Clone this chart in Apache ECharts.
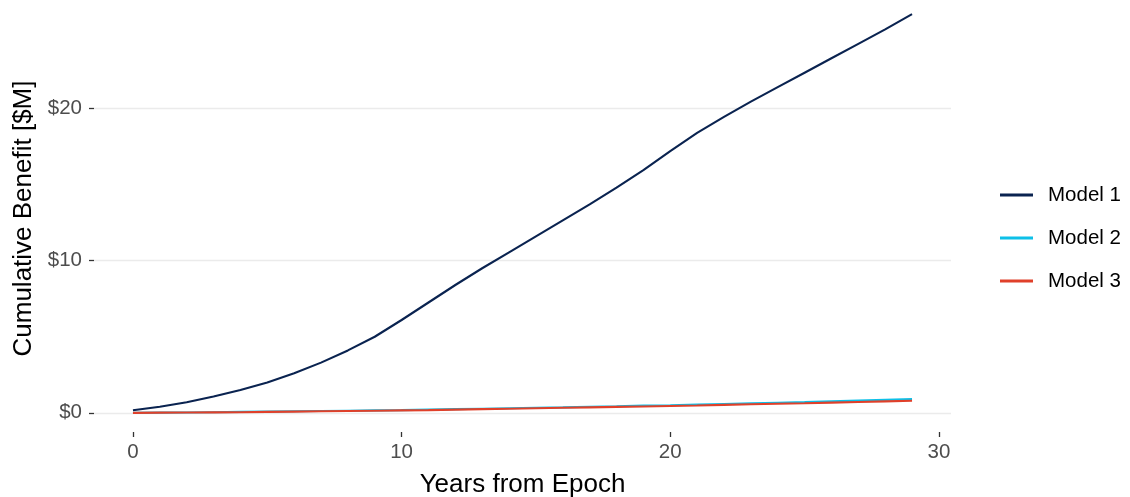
<!DOCTYPE html>
<html>
<head>
<meta charset="utf-8">
<script src="https://cdn.jsdelivr.net/npm/echarts@6/dist/echarts.min.js"></script>
<style>html,body{margin:0;padding:0;background:#fff;}#c{width:1130px;height:497px;}</style>
</head>
<body>
<div id="c"></div>
<script>
var years = [0,1,2,3,4,5,6,7,8,9,10,11,12,13,14,15,16,17,18,19,20,21,22,23,24,25,26,27,28,29];
var model1 = [0.17,0.4,0.7,1.07,1.5,2.0,2.6,3.3,4.1,5.0,6.1,7.25,8.4,9.5,10.55,11.6,12.65,13.7,14.8,15.95,17.2,18.4,19.45,20.45,21.4,22.35,23.3,24.25,25.2,26.2];
var model2 = [0,0.01,0.02,0.04,0.06,0.08,0.1,0.12,0.14,0.16,0.18,0.21,0.24,0.27,0.3,0.33,0.36,0.4,0.43,0.47,0.5,0.54,0.58,0.62,0.66,0.7,0.75,0.8,0.85,0.9];
var model3 = [0,0.01,0.02,0.03,0.04,0.06,0.08,0.1,0.12,0.14,0.16,0.18,0.21,0.24,0.27,0.3,0.33,0.36,0.39,0.42,0.45,0.48,0.52,0.56,0.6,0.63,0.67,0.71,0.75,0.79];
var xTicks = [0,10,20,30];
var yTicks = [0,10,20];
var seriesNames = ['Model 1','Model 2','Model 3'];
var colors = ['#0a2350','#0dc0e8','#e0402a'];

function pairs(v){ return years.map(function(y,i){ return [y, v[i]]; }); }
var allData = [model1, model2, model3];
var FF = 'Liberation Sans, Arial, sans-serif';

var chart = echarts.init(document.getElementById('c'), null, {renderer:'canvas'});
chart.setOption({
  animation:false,
  textStyle:{fontFamily:FF},
  grid:{left:94, right:179, top:5, bottom:65, containLabel:false, outerBoundsMode:'none'},
  xAxis:{
    type:'value', min:-1.45, max:30.45,
    name:'Years from Epoch', nameLocation:'middle', nameGap:40,
    nameTextStyle:{fontSize:26, color:'#000', fontFamily:FF},
    axisLine:{show:false, onZero:false},
    axisTick:{show:true, length:5, lineStyle:{color:'#333', width:1.3}, customValues:xTicks},
    axisLabel:{fontSize:20.5, color:'#4d4d4d', margin:10, customValues:xTicks},
    splitLine:{show:false}
  },
  yAxis:{
    type:'value', min:-1.26, max:26.8,
    name:'Cumulative Benefit [$M]', nameLocation:'middle', nameGap:52,
    nameTextStyle:{fontSize:26, color:'#000', fontFamily:FF},
    axisLine:{show:false, onZero:false},
    axisTick:{show:true, length:5, lineStyle:{color:'#333', width:1.3}, customValues:yTicks},
    axisLabel:{fontSize:20.5, color:'#4d4d4d', margin:12, customValues:yTicks, formatter:function(v){return '$'+v;}},
    splitLine:{show:true, lineStyle:{color:'#ebebeb', width:1.3}}
  },
  legend:{
    orient:'vertical', left:995, top:178, itemWidth:33, itemHeight:3, itemGap:19,
    icon:'rect',
    textStyle:{fontSize:20.5, color:'#000', lineHeight:24, padding:[0,0,0,10]},
    data:seriesNames
  },
  series: seriesNames.map(function(n,i){
    return {name:n, type:'line', data:pairs(allData[i]), showSymbol:false, symbol:'none',
      lineStyle:{color:colors[i], width:2.1}, itemStyle:{color:colors[i]}, z: 2+i};
  })
});
</script>
</body>
</html>
